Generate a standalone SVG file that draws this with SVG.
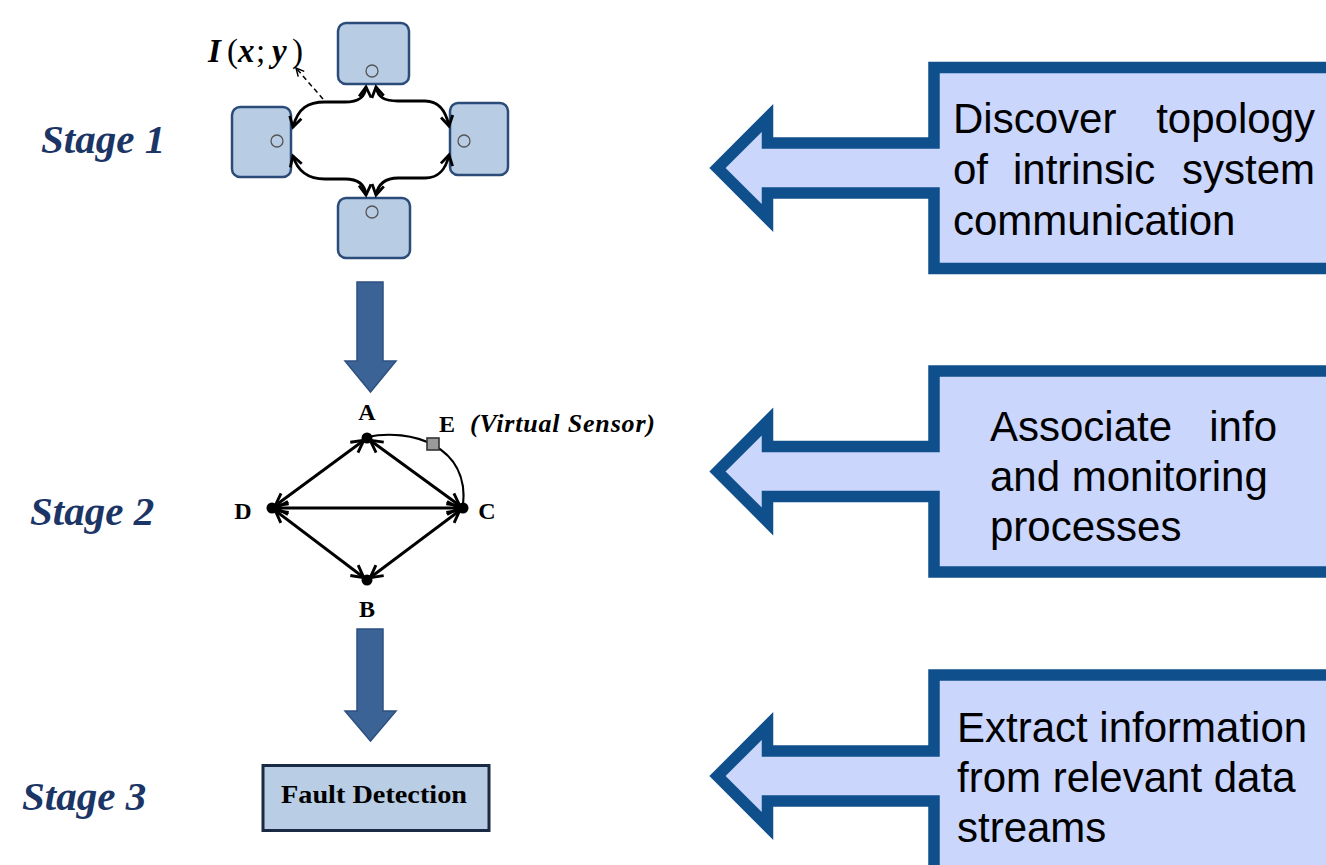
<svg xmlns="http://www.w3.org/2000/svg" width="1326" height="865" viewBox="0 0 1326 865">
<style>
.stage{font-family:"Liberation Serif",serif;font-weight:bold;font-style:italic;font-size:41px;fill:#1b3566}
.sbox{fill:#b8cce4;stroke:#2b4b78;stroke-width:2.5}
.port{fill:none;stroke:#555;stroke-width:1.3}
.curve{fill:none;stroke:#000;stroke-width:2.8}
.edge{fill:none;stroke:#000;stroke-width:2.9}
.node{fill:#000}
.nlabel{font-family:"Liberation Serif",serif;font-weight:bold;font-size:24px;fill:#000;text-anchor:middle}
.callout{fill:#cad6fc;stroke:#0f4f8c;stroke-width:11.5;stroke-linejoin:miter}
.ctext{font-family:"Liberation Sans",Arial,sans-serif;font-size:42px;fill:#000}
.down{fill:#3c6396;stroke:#2d5080;stroke-width:1.5}
.math{font-family:"Liberation Serif",serif;font-size:33px;fill:#000}
.mi{font-weight:bold;font-style:italic}
</style>
<defs>
<marker id="v1" viewBox="-13 -8 16 16" refX="0" refY="0" markerWidth="16" markerHeight="16" markerUnits="userSpaceOnUse" orient="auto-start-reverse">
<path d="M-10,-6 L0,0 L-10,6" fill="none" stroke="#000" stroke-width="2.8"/>
</marker>
<marker id="v2" viewBox="-15 -9 24 18" refX="4" refY="0" markerWidth="24" markerHeight="18" markerUnits="userSpaceOnUse" orient="auto-start-reverse">
<path d="M-12,-6.5 L0,0 L-12,6.5" fill="none" stroke="#000" stroke-width="2.9"/>
</marker>
<marker id="vd" viewBox="-10 -6 12 12" refX="0" refY="0" markerWidth="12" markerHeight="12" markerUnits="userSpaceOnUse" orient="auto">
<path d="M-8,-4 L0,0 L-8,4" fill="none" stroke="#000" stroke-width="1.5"/>
</marker>
</defs>

<g id="stage-labels">
<text class="stage" x="41" y="153">Stage 1</text>
<text class="stage" x="30" y="525">Stage 2</text>
<text class="stage" x="22" y="810">Stage 3</text>
</g>

<!-- Stage 1 nodes -->
<g id="s1-top"><rect class="sbox" x="338" y="23" width="71" height="61" rx="8"/><circle class="port" cx="372" cy="71" r="6"/></g>
<g id="s1-left"><rect class="sbox" x="232" y="107" width="59" height="70" rx="8"/><circle class="port" cx="277" cy="141" r="6"/></g>
<g id="s1-right"><rect class="sbox" x="450" y="103" width="58" height="72" rx="8"/><circle class="port" cx="464" cy="141" r="6"/></g>
<g id="s1-bottom"><rect class="sbox" x="338" y="198" width="72" height="60" rx="8"/><circle class="port" cx="372" cy="212" r="6"/></g>
<g id="s1-label">
<text class="math" y="62"><tspan class="mi" x="208">I</tspan><tspan x="227">(</tspan><tspan class="mi" x="238">x</tspan><tspan x="256">;</tspan><tspan class="mi" x="272">y</tspan><tspan x="292">)</tspan></text>
</g>

<g id="s1-connectors">
<path class="curve" d="M293,127 C298,108 308,102 325,102 L345,102 C358,102 365,98 366,87" marker-start="url(#v1)" marker-end="url(#v1)"/>
<path class="curve" d="M376,87 C378,98 385,101 398,101 L425,101 C440,101 446,112 449,126" marker-start="url(#v1)" marker-end="url(#v1)"/>
<path class="curve" d="M293,156 C298,172 308,179 325,179 L345,179 C358,179 365,185 366,195" marker-start="url(#v1)" marker-end="url(#v1)"/>
<path class="curve" d="M376,195 C378,185 385,178 398,178 L425,178 C440,178 446,168 449,155" marker-start="url(#v1)" marker-end="url(#v1)"/>
<path d="M323,99 L296,68" fill="none" stroke="#000" stroke-width="1.5" stroke-dasharray="5,3.5" marker-end="url(#vd)"/>
</g>

<!-- flow arrows -->
<g id="flow-arrows">
<polygon class="down" points="357,282 383,282 383,361 396,361 370.5,392 345,361 357,361"/>
<polygon class="down" points="357,629 383,629 383,711 396,711 370.5,741 345,711 357,711"/>
</g>

<!-- Stage 2 graph -->
<g id="s2-connectors">
<line class="edge" x1="272" y1="508" x2="367" y2="438" marker-start="url(#v2)" marker-end="url(#v2)"/>
<line class="edge" x1="367" y1="438" x2="463" y2="508" marker-start="url(#v2)" marker-end="url(#v2)"/>
<line class="edge" x1="272" y1="508" x2="463" y2="508" marker-start="url(#v2)" marker-end="url(#v2)"/>
<line class="edge" x1="272" y1="508" x2="367" y2="580" marker-start="url(#v2)" marker-end="url(#v2)"/>
<line class="edge" x1="367" y1="580" x2="463" y2="508" marker-start="url(#v2)" marker-end="url(#v2)"/>
<path d="M367,437 C410,428 470,445 463,506" fill="none" stroke="#000" stroke-width="2.2"/>
</g>
<g id="s2-A"><circle class="node" cx="367" cy="438" r="5.5"/><text class="nlabel" x="367" y="420">A</text></g>
<g id="s2-B"><circle class="node" cx="367" cy="580" r="5.5"/><text class="nlabel" x="367" y="617">B</text></g>
<g id="s2-C"><circle class="node" cx="463" cy="508" r="5.5"/><text class="nlabel" x="487" y="519">C</text></g>
<g id="s2-D"><circle class="node" cx="272" cy="508" r="5.5"/><text class="nlabel" x="243" y="519">D</text></g>
<g id="s2-E"><rect x="427" y="438" width="12" height="12" fill="#9a9a9a" stroke="#333" stroke-width="1.6"/><text class="nlabel" x="447" y="432">E</text>
<text x="470" y="432" font-family="Liberation Serif, serif" font-weight="bold" font-style="italic" font-size="26" textLength="185" lengthAdjust="spacing">(Virtual Sensor)</text></g>

<!-- Stage 3 -->
<g id="s3-fault">
<rect x="263" y="765.5" width="226" height="65" fill="#b9cde4" stroke="#1a2a45" stroke-width="3"/>
<text x="374" y="803" font-family="Liberation Serif, serif" font-weight="bold" font-size="26" text-anchor="middle" textLength="186" lengthAdjust="spacingAndGlyphs">Fault Detection</text>
</g>

<!-- Callouts -->
<g id="callout-1">
<path class="callout" d="M1345,67.5 H934 V143 H767.5 V118 L717.5,168 L767.5,218 V193 H934 V268.5 H1345 Z"/>
<text class="ctext" x="953" y="133">Discover</text>
<text class="ctext" x="1315" y="133" text-anchor="end">topology</text>
<text class="ctext" x="953" y="184">of</text>
<text class="ctext" x="1013" y="184">intrinsic</text>
<text class="ctext" x="1315" y="184" text-anchor="end">system</text>
<text class="ctext" x="953" y="235">communication</text>
</g>
<g id="callout-2">
<path class="callout" d="M1345,371 H934 V446.5 H767.5 V421.5 L717.5,471.5 L767.5,521.5 V496.5 H934 V572 H1345 Z"/>
<text class="ctext" x="990" y="441">Associate</text>
<text class="ctext" x="1277" y="441" text-anchor="end">info</text>
<text class="ctext" x="990" y="491">and monitoring</text>
<text class="ctext" x="990" y="541">processes</text>
</g>
<g id="callout-3">
<path class="callout" d="M1345,675 H934 V751 H767.5 V726 L717.5,776 L767.5,826 V801 H934 V880 H1345 Z"/>
<text class="ctext" x="957" y="742">Extract information</text>
<text class="ctext" x="957" y="792">from relevant data</text>
<text class="ctext" x="957" y="842">streams</text>
</g>
</svg>
